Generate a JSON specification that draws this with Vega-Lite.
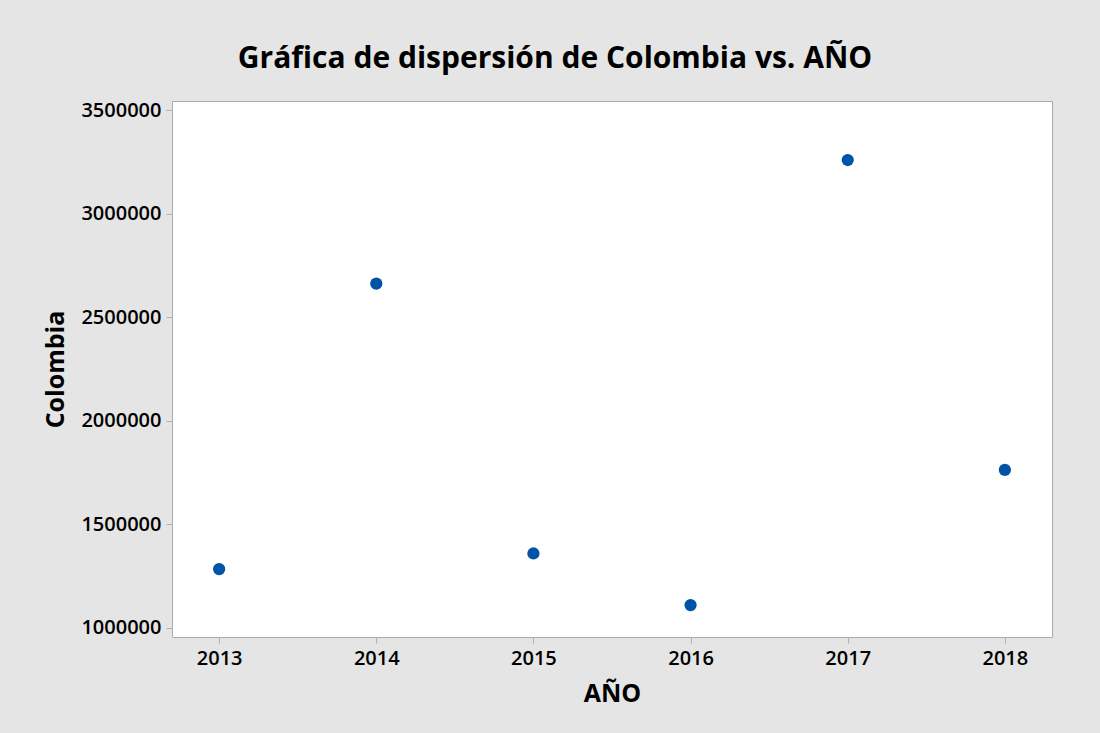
{
  "$schema": "https://vega.github.io/schema/vega-lite/v6.json",
  "autosize": {"type": "none"},
  "width": 880,
  "height": 536,
  "padding": {"left": 172, "top": 101, "right": 48, "bottom": 96},
  "background": "#e5e5e5",
  "title": {
    "text": "Gráfica de dispersión de Colombia vs. AÑO",
    "font": "Open Sans",
    "fontSize": 30,
    "fontWeight": "bold",
    "color": "#000000",
    "anchor": "middle",
    "baseline": "alphabetic",
    "offset": 2,
    "dx": -57
  },
  "data": {
    "values": [
      {"AÑO": 2013, "Colombia": 1283300},
      {"AÑO": 2014, "Colombia": 2662700},
      {"AÑO": 2015, "Colombia": 1358600},
      {"AÑO": 2016, "Colombia": 1109400},
      {"AÑO": 2017, "Colombia": 3259700},
      {"AÑO": 2018, "Colombia": 1762500}
    ]
  },
  "mark": {"type": "point", "filled": true, "shape": "circle", "size": 150, "color": "#0054a6", "opacity": 1},
  "encoding": {
    "x": {
      "field": "AÑO",
      "type": "quantitative",
      "scale": {"domain": [2012.7, 2018.3], "nice": false, "zero": false},
      "axis": {
        "values": [2013, 2014, 2015, 2016, 2017, 2018],
        "format": "d",
        "title": "AÑO",
        "titlePadding": 13
      }
    },
    "y": {
      "field": "Colombia",
      "type": "quantitative",
      "scale": {"domain": [955100, 3544900], "nice": false, "zero": false},
      "axis": {
        "values": [1000000, 1500000, 2000000, 2500000, 3000000, 3500000],
        "format": "d",
        "title": "Colombia",
        "titlePadding": 12
      }
    }
  },
  "config": {
    "view": {"fill": "#ffffff", "stroke": "#ababab", "strokeWidth": 1},
    "axis": {
      "grid": false,
      "domain": false,
      "ticks": true,
      "tickSize": 6,
      "tickColor": "#b0b0b0",
      "labelFont": "Open Sans",
      "labelFontSize": 20,
      "labelFontWeight": 600,
      "labelColor": "#000000",
      "labelPadding": 5,
      "titleFont": "Open Sans",
      "titleFontSize": 25,
      "titleFontWeight": "bold",
      "titleColor": "#000000"
    }
  }
}
